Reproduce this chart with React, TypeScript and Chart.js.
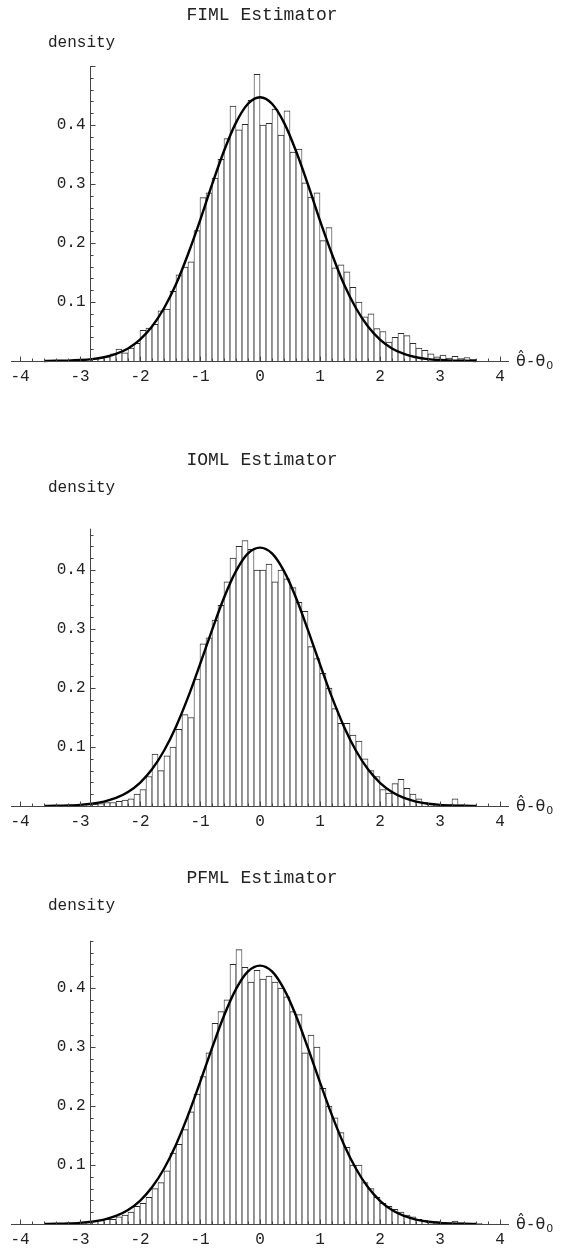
import React, { useEffect, useRef } from "react";
import { Chart, registerables } from "chart.js";

Chart.register(...registerables);

// ---------------- data ----------------
const binCenters = [
  -2.95, -2.85, -2.75, -2.65, -2.55, -2.45, -2.35, -2.25, -2.15, -2.05,
  -1.95, -1.85, -1.75, -1.65, -1.55, -1.45, -1.35, -1.25, -1.15, -1.05,
  -0.95, -0.85, -0.75, -0.65, -0.55, -0.45, -0.35, -0.25, -0.15, -0.05,
  0.05, 0.15, 0.25, 0.35, 0.45, 0.55, 0.65, 0.75, 0.85, 0.95,
  1.05, 1.15, 1.25, 1.35, 1.45, 1.55, 1.65, 1.75, 1.85, 1.95,
  2.05, 2.15, 2.25, 2.35, 2.45, 2.55, 2.65, 2.75, 2.85, 2.95,
  3.05, 3.15, 3.25, 3.35, 3.45, 3.55, 3.65,
];

const fimlDensity = [
  0.002, 0.003, 0.004, 0.006, 0.007, 0.012, 0.02, 0.014, 0.022, 0.03,
  0.052, 0.056, 0.062, 0.085, 0.088, 0.118, 0.146, 0.159, 0.168, 0.221,
  0.277, 0.285, 0.31, 0.342, 0.377, 0.432, 0.392, 0.401, 0.442, 0.486,
  0.4, 0.403, 0.427, 0.383, 0.424, 0.354, 0.359, 0.302, 0.278, 0.285,
  0.204, 0.226, 0.158, 0.163, 0.151, 0.125, 0.1, 0.075, 0.08, 0.055,
  0.05, 0.032, 0.04, 0.047, 0.043, 0.03, 0.022, 0.018, 0.012, 0.007,
  0.01, 0.005, 0.008, 0.004, 0.006, 0.003, 0,
];

const iomlDensity = [
  0, 0.002, 0.003, 0.004, 0.006, 0.006, 0.008, 0.01, 0.012, 0.02,
  0.028, 0.05, 0.088, 0.06, 0.085, 0.1, 0.13, 0.155, 0.15, 0.215,
  0.275, 0.285, 0.315, 0.34, 0.38, 0.42, 0.44, 0.45, 0.435, 0.4,
  0.4, 0.41, 0.38, 0.4, 0.385, 0.37, 0.345, 0.33, 0.27, 0.25,
  0.225, 0.2, 0.165, 0.14, 0.14, 0.12, 0.11, 0.08, 0.06, 0.05,
  0.028, 0.022, 0.038, 0.045, 0.03, 0.02, 0.012, 0.006, 0.004, 0.003,
  0.002, 0.002, 0.012, 0.002, 0, 0.001, 0,
];

const pfmlDensity = [
  0.002, 0.002, 0.005, 0.006, 0.008, 0.008, 0.012, 0.015, 0.02, 0.03,
  0.035, 0.045, 0.06, 0.07, 0.09, 0.12, 0.135, 0.16, 0.19, 0.22,
  0.25, 0.29, 0.34, 0.36, 0.38, 0.44, 0.465, 0.435, 0.41, 0.43,
  0.415, 0.42, 0.41, 0.4, 0.385, 0.36, 0.355, 0.29, 0.32, 0.3,
  0.23, 0.2, 0.18, 0.155, 0.13, 0.1, 0.1, 0.07, 0.06, 0.045,
  0.035, 0.03, 0.025, 0.02, 0.015, 0.012, 0.008, 0.006, 0.005, 0.004,
  0.003, 0.002, 0.005, 0.002, 0.001, 0.001, 0.001,
];

const curveX = [
  -3.6, -3.4, -3.2, -3.0, -2.8, -2.6, -2.4, -2.2, -2.0, -1.8, -1.6, -1.4,
  -1.2, -1.0, -0.8, -0.6, -0.4, -0.2, 0, 0.2, 0.4, 0.6, 0.8, 1.0, 1.2,
  1.4, 1.6, 1.8, 2.0, 2.2, 2.4, 2.6, 2.8, 3.0, 3.2, 3.4, 3.6,
];

const fimlCurve = [
  0.0001, 0.0003, 0.0007, 0.0016, 0.0032, 0.0064, 0.012, 0.0213, 0.0362,
  0.0583, 0.0894, 0.13, 0.181, 0.238, 0.299, 0.356, 0.404, 0.436, 0.447,
  0.436, 0.404, 0.356, 0.299, 0.238, 0.181, 0.13, 0.0894, 0.0583, 0.0362,
  0.0213, 0.012, 0.0064, 0.0032, 0.0016, 0.0007, 0.0003, 0.0001,
];

const iomlCurve = [
  0.0002, 0.0004, 0.0009, 0.0019, 0.0039, 0.0075, 0.0136, 0.0237, 0.0393,
  0.0622, 0.0937, 0.1345, 0.184, 0.24, 0.298, 0.353, 0.398, 0.428, 0.438,
  0.428, 0.398, 0.353, 0.298, 0.24, 0.184, 0.1345, 0.0937, 0.0622, 0.0393,
  0.0237, 0.0136, 0.0075, 0.0039, 0.0019, 0.0009, 0.0004, 0.0002,
];

const pfmlCurve = [
  0.0002, 0.0004, 0.0009, 0.0019, 0.0039, 0.0075, 0.0136, 0.0237, 0.0393,
  0.0622, 0.0937, 0.1345, 0.184, 0.24, 0.298, 0.353, 0.398, 0.428, 0.438,
  0.428, 0.398, 0.353, 0.298, 0.24, 0.184, 0.1345, 0.0937, 0.0622, 0.0393,
  0.0237, 0.0136, 0.0075, 0.0039, 0.0019, 0.0009, 0.0004, 0.0002,
];

const xTickValues = [-4, -3, -2, -1, 0, 1, 2, 3, 4];
const xTickLabels = ["-4", "-3", "-2", "-1", "0", "1", "2", "3", "4"];
const yTickValues = [0.1, 0.2, 0.3, 0.4];
const yTickLabels = ["0.1", "0.2", "0.3", "0.4"];
const panelTitles = ["FIML Estimator", "IOML Estimator", "PFML Estimator"];
const yAxisTitle = "density";
const xAxisTitleParts = ["\u03B8\u0302", "-", "\u03B8"];
const xAxisTitleSub = "0";

// ---------------- layout constants ----------------
const W = 582;
const H = 420;
const MONO = "'Liberation Mono', 'DejaVu Sans Mono', monospace";
const SANS = "'DejaVu Sans', sans-serif";

const mmaAxes = {
  id: "mmaAxes",
  afterDatasetsDraw(chart: any, _args: any, opts: any) {
    const { ctx } = chart;
    const xs = chart.scales.x;
    const ys = chart.scales.y;
    const px = (v: number) => xs.getPixelForValue(v);
    const py = (v: number) => ys.getPixelForValue(v);
    const y0 = Math.round(py(0)) + 0.5;
    const xA = Math.round(px(opts.yAxisAt)) + 0.5;
    ctx.save();
    ctx.strokeStyle = "#444";
    ctx.lineWidth = 1;
    ctx.beginPath();
    ctx.moveTo(px(opts.xFrom), y0);
    ctx.lineTo(px(opts.xTo), y0);
    ctx.stroke();
    ctx.beginPath();
    for (let k = -20; k <= 20; k++) {
      const v = k / 5;
      const major = k % 5 === 0;
      const x = Math.round(px(v)) + 0.5;
      ctx.moveTo(x, y0);
      ctx.lineTo(x, y0 - (major ? 5 : 3));
    }
    ctx.stroke();
    ctx.beginPath();
    ctx.moveTo(xA, py(0));
    ctx.lineTo(xA, py(opts.yTop));
    ctx.stroke();
    ctx.beginPath();
    for (let k = 1; k * 0.02 <= opts.yTop + 1e-9; k++) {
      const v = k * 0.02;
      const major = k % 5 === 0;
      const y = Math.round(py(v)) + 0.5;
      ctx.moveTo(xA, y);
      ctx.lineTo(xA + (major ? 5 : 3), y);
    }
    ctx.stroke();

    ctx.fillStyle = "#222";
    ctx.font = `16px ${MONO}`;
    ctx.textAlign = "center";
    ctx.textBaseline = "top";
    xTickValues.forEach((v, i) => ctx.fillText(xTickLabels[i], px(v), y0 + 7));
    ctx.textAlign = "right";
    ctx.textBaseline = "middle";
    yTickValues.forEach((v, i) => ctx.fillText(yTickLabels[i], xA - 5, py(v)));
    ctx.textAlign = "left";
    ctx.fillText(yAxisTitle, opts.yTitleX, opts.yTitleY);
    ctx.font = `18px ${MONO}`;
    ctx.textAlign = "center";
    ctx.fillText(opts.title, opts.titleX, opts.titleY);

    // x axis title: θ̂-θ₀
    ctx.textAlign = "left";
    ctx.font = `16px ${SANS}`;
    let lx = px(opts.xTo) + 7;
    xAxisTitleParts.forEach((part) => {
      ctx.fillText(part, lx, y0);
      lx += ctx.measureText(part).width + 2;
    });
    ctx.font = `11px ${SANS}`;
    ctx.fillText(xAxisTitleSub, lx - 1, y0 + 5);
    ctx.restore();
  },
};

type PanelProps = {
  title: string;
  density: number[];
  curve: number[];
  top: number;
  yTop: number;
};

function Panel({ title, density, curve, top, yTop }: PanelProps) {
  const ref = useRef<HTMLCanvasElement>(null);
  useEffect(() => {
    const chart = new Chart(ref.current as HTMLCanvasElement, {
      type: "bar",
      data: {
        datasets: [
          {
            type: "line",
            data: curveX.map((x, i) => ({ x, y: curve[i] })),
            borderColor: "#000",
            borderWidth: 2.4,
            pointRadius: 0,
            cubicInterpolationMode: "monotone",
            tension: 0.4,
            fill: false,
            order: 0,
          } as any,
          {
            type: "bar",
            data: binCenters.map((x, i) => ({ x, y: density[i] })),
            backgroundColor: "#fff",
            borderColor: "#2a2a2a",
            borderWidth: { top: 1, left: 0.8, right: 0.8, bottom: 0 },
            borderSkipped: false,
            barPercentage: 1,
            categoryPercentage: 1,
            order: 1,
          } as any,
        ],
      },
      options: {
        responsive: false,
        animation: false,
        events: [],
        layout: { padding: { top: 7, bottom: 0, left: 0, right: 0 } },
        scales: {
          x: { type: "linear", min: -4.3333, max: 5.3667, display: false, offset: false },
          y: { type: "linear", min: -0.1, max: 0.6, display: false },
        },
        plugins: {
          legend: { display: false },
          tooltip: { enabled: false },
          mmaAxes: {
            title,
            titleX: 262,
            titleY: 15,
            yTitleX: 48,
            yTitleY: 43,
            yAxisAt: -2.83,
            yTop,
            xFrom: -4.15,
            xTo: 4.15,
          },
        } as any,
      },
      plugins: [mmaAxes as any],
    });
    return () => chart.destroy();
  }, []);
  return (
    <canvas
      ref={ref}
      width={W}
      height={H}
      style={{ position: "absolute", left: 0, top, display: "block" }}
    />
  );
}

export default function App() {
  return (
    <div
      style={{
        position: "absolute",
        left: 0,
        top: 0,
        width: W,
        height: 1249,
        overflow: "hidden",
        background: "#fff",
      }}
    >
      <Panel title={panelTitles[0]} density={fimlDensity} curve={fimlCurve} top={0} yTop={0.5} />
      <Panel title={panelTitles[1]} density={iomlDensity} curve={iomlCurve} top={445} yTop={0.47} />
      <Panel title={panelTitles[2]} density={pfmlDensity} curve={pfmlCurve} top={863} yTop={0.48} />
    </div>
  );
}
